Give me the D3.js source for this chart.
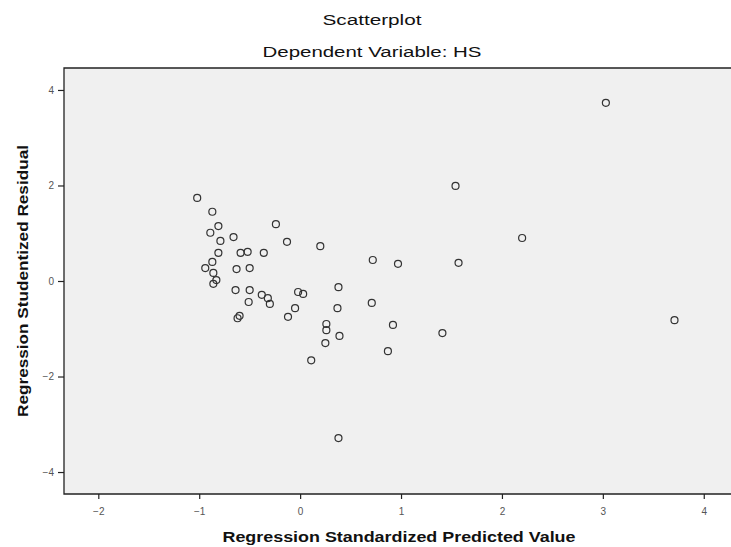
<!DOCTYPE html>
<html>
<head>
<meta charset="utf-8">
<script src="https://cdn.jsdelivr.net/npm/d3@7/dist/d3.min.js"></script>
<style>
  html, body { margin: 0; padding: 0; background: #fff; }
  svg { display: block; }
</style>
</head>
<body>
<div id="chart"></div>
<script>
// ---- data ----
const predicted = [3.03, 1.54, 2.20, 1.57, 3.71, 0.97, 0.72, 0.20, -0.13, -0.24,
  -0.36, -0.52, -0.59, -0.66, -1.02, -0.87, -0.81, -0.89, -0.79, -0.81,
  -0.87, -0.94, -0.86, -0.83, -0.86, -0.63, -0.50, -0.64, -0.50, -0.38,
  -0.51, -0.30, -0.62, -0.60, -0.12, -0.02, 0.03, -0.05, 0.38, 0.37,
  0.26, 0.26, 0.39, 0.25, 0.11, 0.71, 0.92, 1.41, 0.87, 0.38, -0.32];
const residual = [3.73, 1.99, 0.90, 0.38, -0.82, 0.36, 0.44, 0.73, 0.82, 1.19,
  0.59, 0.61, 0.59, 0.92, 1.74, 1.45, 1.15, 1.01, 0.84, 0.59,
  0.40, 0.27, 0.17, 0.02, -0.06, 0.25, 0.27, -0.19, -0.19, -0.29,
  -0.44, -0.48, -0.78, -0.73, -0.75, -0.23, -0.27, -0.57, -0.13, -0.57,
  -0.90, -1.03, -1.15, -1.30, -1.66, -0.46, -0.92, -1.09, -1.47, -3.29, -0.36];
const xTicks = [-2, -1, 0, 1, 2, 3, 4];
const yTicks = [-4, -2, 0, 2, 4];
const titleText = "Scatterplot";
const subtitleText = "Dependent Variable: HS";
const xTitle = "Regression Standardized Predicted Value";
const yTitle = "Regression Studentized Residual";

const W = 731, H = 547;
const plot = { left: 64, right: 731, top: 68, bottom: 494 };

const svg = d3.select("#chart").append("svg")
  .attr("width", W).attr("height", H)
  .style("font-family", "'Liberation Sans', Arial, sans-serif");

const x = d3.scaleLinear().domain([-2.34, 4.27]).range([plot.left, plot.right]);
const y = d3.scaleLinear().domain([-4.46, 4.46]).range([plot.bottom, plot.top]);

// plot background
svg.append("rect")
  .attr("x", plot.left).attr("y", plot.top)
  .attr("width", plot.right - plot.left).attr("height", plot.bottom - plot.top)
  .attr("fill", "#f0f0f0");

// frame lines (top, left, bottom)
svg.append("path")
  .attr("d", `M${plot.right},${plot.top}H${plot.left}V${plot.bottom}H${plot.right}`)
  .attr("fill", "none").attr("stroke", "#222").attr("stroke-width", 1.3);

// axes
const xAxis = d3.axisBottom(x).tickValues(xTicks).tickSize(5).tickSizeOuter(0)
  .tickFormat(d3.format("d"));
const gx = svg.append("g").attr("transform", `translate(0,${plot.bottom})`).call(xAxis);
gx.select(".domain").remove();
gx.selectAll(".tick line").attr("stroke", "#222").attr("stroke-width", 1.2);
gx.selectAll(".tick text").attr("fill", "#555").attr("font-size", 10).attr("dy", "1.25em");

const yAxis = d3.axisLeft(y).tickValues(yTicks).tickSize(6).tickSizeOuter(0)
  .tickFormat(d3.format("d"));
const gy = svg.append("g").attr("transform", `translate(${plot.left},0)`).call(yAxis);
gy.select(".domain").remove();
gy.selectAll(".tick line").attr("stroke", "#222").attr("stroke-width", 1.2);
gy.selectAll(".tick text").attr("fill", "#555").attr("font-size", 10).attr("dx", "-0.1em");

// points
const pts = predicted.map((p, i) => ({ p, r: residual[i] }));
svg.append("g").selectAll("circle").data(pts).join("circle")
  .attr("cx", d => x(d.p)).attr("cy", d => y(d.r))
  .attr("r", 3.5)
  .attr("fill", "none").attr("stroke", "#333").attr("stroke-width", 1.2);

// titles
svg.append("text").attr("x", 372).attr("y", 25).attr("text-anchor", "middle")
  .attr("font-size", 14).attr("fill", "#111")
  .attr("textLength", 99).attr("lengthAdjust", "spacingAndGlyphs")
  .text(titleText);
svg.append("text").attr("x", 372).attr("y", 57).attr("text-anchor", "middle")
  .attr("font-size", 14).attr("fill", "#111")
  .attr("textLength", 219).attr("lengthAdjust", "spacingAndGlyphs")
  .text(subtitleText);
svg.append("text").attr("x", 399).attr("y", 542).attr("text-anchor", "middle")
  .attr("font-size", 14).attr("font-weight", "bold").attr("fill", "#111")
  .attr("textLength", 353).attr("lengthAdjust", "spacingAndGlyphs")
  .text(xTitle);
svg.append("text")
  .attr("transform", "translate(28,281) rotate(-90)")
  .attr("text-anchor", "middle")
  .attr("font-size", 14).attr("font-weight", "bold").attr("fill", "#111")
  .attr("textLength", 272).attr("lengthAdjust", "spacingAndGlyphs")
  .text(yTitle);
</script>
</body>
</html>
